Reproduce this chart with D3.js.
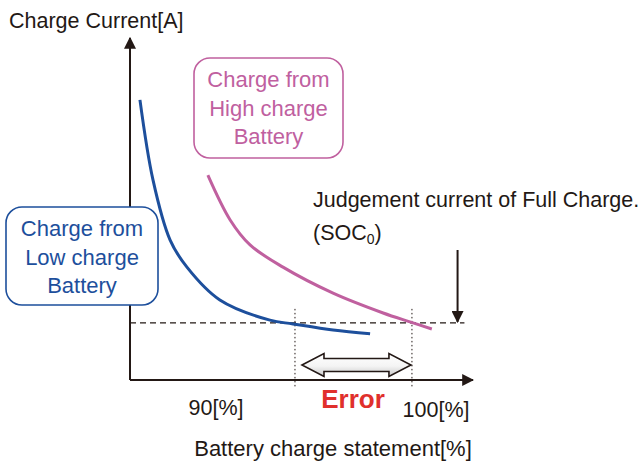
<!DOCTYPE html>
<html>
<head>
<meta charset="utf-8">
<script src="https://cdn.jsdelivr.net/npm/d3@7"></script>
<style>
  body { margin: 0; background: #fff; }
  text { font-family: "Liberation Sans", Arial, sans-serif; }
</style>
</head>
<body>
<div id="chart"></div>
<script>
// curve points, x = position along charge axis (0-100), y = current (0-100)
var lowChargeX = [2.9, 6.7, 11.7, 16.6, 26.2, 40.8, 47.5, 59.2, 70.0];
var lowChargeY = [81.9, 58.5, 40.9, 33.0, 23.4, 17.5, 16.4, 14.6, 13.5];
var highChargeX = [22.7, 29.2, 35.0, 44.6, 59.2, 73.8, 81.6, 88.0];
var highChargeY = [59.9, 46.8, 39.5, 33.0, 25.4, 19.6, 17.0, 14.9];
var judgeCurrent = 16.7;
var errorRange = [48.1, 82.2];
var tickLabels = ["90[%]", "100[%]"];

var width = 638, height = 464;
var blue = "#1d4f9c", pink = "#c0609f";
var fs = 21.5;

var svg = d3.select("#chart").append("svg")
    .attr("width", width)
    .attr("height", height);

var x = d3.scaleLinear().domain([0, 100]).range([130, 473]);
var y = d3.scaleLinear().domain([0, 100]).range([380, 38]);

var defs = svg.append("defs");
defs.append("marker")
    .attr("id", "arrowhead")
    .attr("viewBox", "0 0 10 10")
    .attr("refX", 9).attr("refY", 5)
    .attr("markerWidth", 12).attr("markerHeight", 12)
    .attr("markerUnits", "userSpaceOnUse")
    .attr("orient", "auto")
    .append("path")
    .attr("d", "M0,0 L10,5 L0,10 Z")
    .attr("fill", "#231815");

var grad = defs.append("linearGradient")
    .attr("id", "arrowfill")
    .attr("x1", "0%").attr("y1", "0%")
    .attr("x2", "0%").attr("y2", "100%");
grad.append("stop").attr("offset", "0%").attr("stop-color", "#ffffff");
grad.append("stop").attr("offset", "55%").attr("stop-color", "#f4f4f4");
grad.append("stop").attr("offset", "100%").attr("stop-color", "#c8c8c8");

// axes
svg.append("line")
    .attr("x1", x(0)).attr("y1", y(0))
    .attr("x2", x(0)).attr("y2", y(100))
    .attr("stroke", "#231815").attr("stroke-width", 2)
    .attr("marker-end", "url(#arrowhead)");
svg.append("line")
    .attr("x1", x(0)).attr("y1", y(0))
    .attr("x2", x(100)).attr("y2", y(0))
    .attr("stroke", "#231815").attr("stroke-width", 2)
    .attr("marker-end", "url(#arrowhead)");

// judgement current (dashed)
svg.append("line")
    .attr("x1", x(0)).attr("y1", y(judgeCurrent))
    .attr("x2", x(97.5)).attr("y2", y(judgeCurrent))
    .attr("stroke", "#231815").attr("stroke-width", 1.4)
    .attr("stroke-dasharray", "6,4");

// dotted error bounds
errorRange.forEach(function (v) {
    svg.append("line")
        .attr("x1", x(v)).attr("y1", y(judgeCurrent) - 14)
        .attr("x2", x(v)).attr("y2", y(0) + 8)
        .attr("stroke", "#231815").attr("stroke-width", 1)
        .attr("stroke-dasharray", "1.5,2.5");
});

// curves
var line = d3.line()
    .x(function (d) { return x(d[0]); })
    .y(function (d) { return y(d[1]); })
    .curve(d3.curveCatmullRom.alpha(0.5));

svg.append("path")
    .datum(d3.zip(lowChargeX, lowChargeY))
    .attr("d", line)
    .attr("fill", "none")
    .attr("stroke", blue)
    .attr("stroke-width", 3);

svg.append("path")
    .datum(d3.zip(highChargeX, highChargeY))
    .attr("d", line)
    .attr("fill", "none")
    .attr("stroke", pink)
    .attr("stroke-width", 3);

// down arrow to judgement level
svg.append("line")
    .attr("x1", x(95.5)).attr("y1", 250)
    .attr("x2", x(95.5)).attr("y2", y(judgeCurrent) - 1)
    .attr("stroke", "#231815").attr("stroke-width", 2)
    .attr("marker-end", "url(#arrowhead)");

// double arrow showing error range
var ax0 = x(errorRange[0]) + 7, ax1 = x(errorRange[1]) - 1, ay = 365;
var hw = 11.5, bw = 6.5, hl = 22;
var dbl = [
    [ax0, ay], [ax0 + hl, ay - hw], [ax0 + hl, ay - bw],
    [ax1 - hl, ay - bw], [ax1 - hl, ay - hw], [ax1, ay],
    [ax1 - hl, ay + hw], [ax1 - hl, ay + bw], [ax0 + hl, ay + bw],
    [ax0 + hl, ay + hw]
];
svg.append("path")
    .attr("d", d3.line()(dbl) + "Z")
    .attr("fill", "url(#arrowfill)")
    .attr("stroke", "#231815")
    .attr("stroke-width", 1.6)
    .attr("stroke-linejoin", "miter");

// labels
svg.append("text")
    .attr("x", 9).attr("y", 28)
    .attr("font-size", fs).attr("fill", "#231815")
    .text("Charge Current[A]");

svg.append("text")
    .attr("x", 216).attr("y", 415)
    .attr("text-anchor", "middle")
    .attr("font-size", fs).attr("fill", "#231815")
    .text(tickLabels[0]);

svg.append("text")
    .attr("x", 436).attr("y", 417)
    .attr("text-anchor", "middle")
    .attr("font-size", fs).attr("fill", "#231815")
    .text(tickLabels[1]);

svg.append("text")
    .attr("x", 353).attr("y", 408)
    .attr("text-anchor", "middle")
    .attr("font-size", 26).attr("font-weight", "bold")
    .attr("fill", "#e0302c")
    .text("Error");

svg.append("text")
    .attr("x", 333).attr("y", 456)
    .attr("text-anchor", "middle")
    .attr("font-size", 22).attr("fill", "#231815")
    .text("Battery charge statement[%]");

svg.append("text")
    .attr("x", 313).attr("y", 207)
    .attr("font-size", fs).attr("fill", "#231815")
    .text("Judgement current of Full Charge.");

var soc = svg.append("text")
    .attr("x", 313).attr("y", 240)
    .attr("font-size", fs).attr("fill", "#231815");
soc.append("tspan").text("(SOC");
soc.append("tspan").attr("font-size", 14).attr("dy", 4).text("0");
soc.append("tspan").attr("dy", -4).text(")");

// boxed labels
function box(x0, y0, w, h, color, lines) {
    svg.append("rect")
        .attr("x", x0).attr("y", y0)
        .attr("width", w).attr("height", h)
        .attr("rx", 16).attr("ry", 16)
        .attr("fill", "#fff")
        .attr("stroke", color).attr("stroke-width", 1.6);
    lines.forEach(function (t, i) {
        svg.append("text")
            .attr("x", x0 + w / 2).attr("y", y0 + 29 + i * 28.5)
            .attr("text-anchor", "middle")
            .attr("font-size", 22).attr("fill", color)
            .text(t);
    });
}
box(194, 58, 149, 100, pink, ["Charge from", "High charge", "Battery"]);
box(6, 207, 152, 98, blue, ["Charge from", "Low charge", "Battery"]);
</script>
</body>
</html>
